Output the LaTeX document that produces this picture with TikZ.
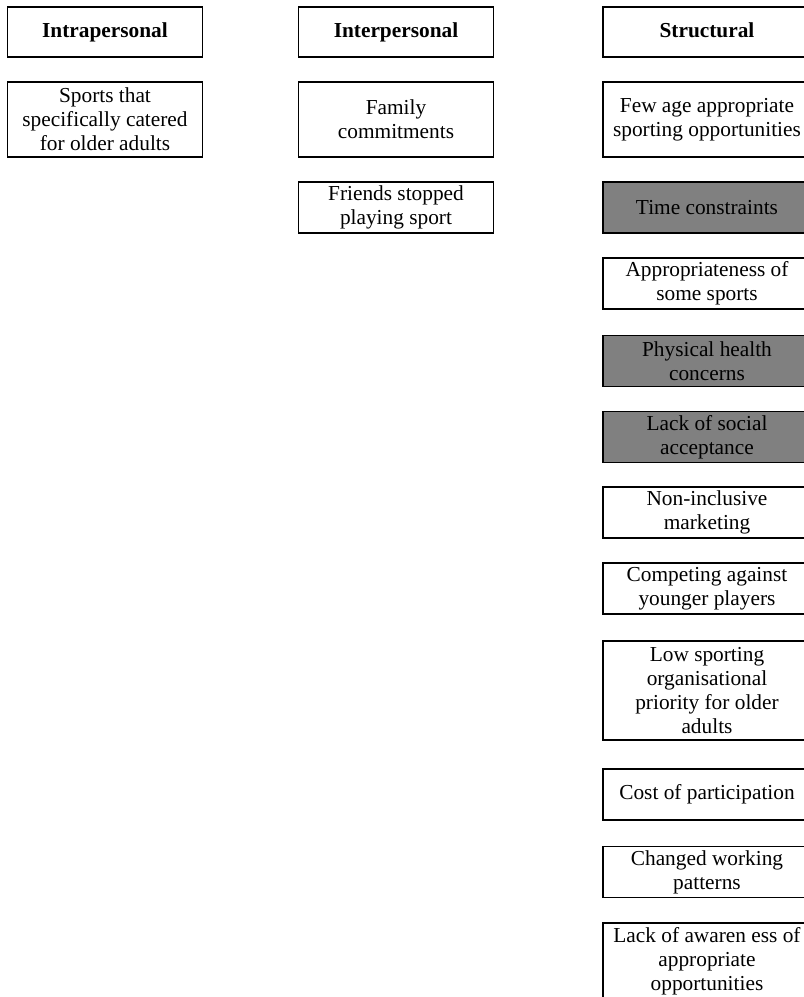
\documentclass[tikz,border=0pt]{standalone}
\usepackage{fontspec}
\setmainfont{Liberation Serif}
\definecolor{boxgray}{HTML}{808080}

\begin{document}
\begin{tikzpicture}[x=0.75pt,y=-0.75pt,
  box/.style={draw,line width=1pt,rectangle,align=center,inner sep=0pt,font=\fontsize{16}{18}\selectfont},
  head/.style={box,font=\fontsize{16}{18}\selectfont\bfseries,minimum height=37.5pt,text height=11pt,text depth=3.5pt},
  shaded/.style={box,fill=boxgray},
  wa/.style={minimum width=146pt},
  wb/.style={minimum width=156pt},
  two/.style={minimum height=38.25pt}]
\useasboundingbox (0,0) rectangle (804,997);
\clip (0,0) rectangle (804,997);
% headings
\node[head,wa] (intra) at (105,32) {Intrapersonal};
\node[head,wa] (inter) at (396,32) {Interpersonal};
\node[head,wb] (struct) at (707,32) {Structural};
% intrapersonal and interpersonal
\node[box,wa,minimum height=56.25pt] (sports) at (105,119.5) {Sports that\\specifically catered\\for older adults};
\node[box,wa,minimum height=56.25pt] (family) at (396,119.5) {Family\\commitments};
\node[box,wa,two] (friends) at (396,207.5) {Friends stopped\\playing sport};
% structural
\node[box,wb,minimum height=56.25pt] (fewage) at (707,119.5) {Few age appropriate\\sporting opportunities};
\node[shaded,wb,two] (time) at (707,207.5) {Time constraints};
\node[box,wb,two] (approp) at (707,283.5) {Appropriateness of\\some sports};
\node[shaded,wb,two] (health) at (707,361) {Physical health\\concerns};
\node[shaded,wb,two] (social) at (707,437) {Lack of social\\acceptance};
\node[box,wb,two] (market) at (707,512.5) {Non-inclusive\\marketing};
\node[box,wb,two] (younger) at (707,588.5) {Competing against\\younger players};
\node[box,wb,line width=1.5pt,minimum height=74.25pt] (priority) at (707,690.5) {Low sporting\\organisational\\priority for older\\adults};
\node[box,wb,two] (cost) at (707,794.5) {Cost of participation};
\node[box,wb,two] (working) at (707,872) {Changed working\\patterns};
\node[box,wb,minimum height=57.75pt] (aware) at (707,961.5) {Lack of awaren ess of\\appropriate\\opportunities};
\end{tikzpicture}
\end{document}
